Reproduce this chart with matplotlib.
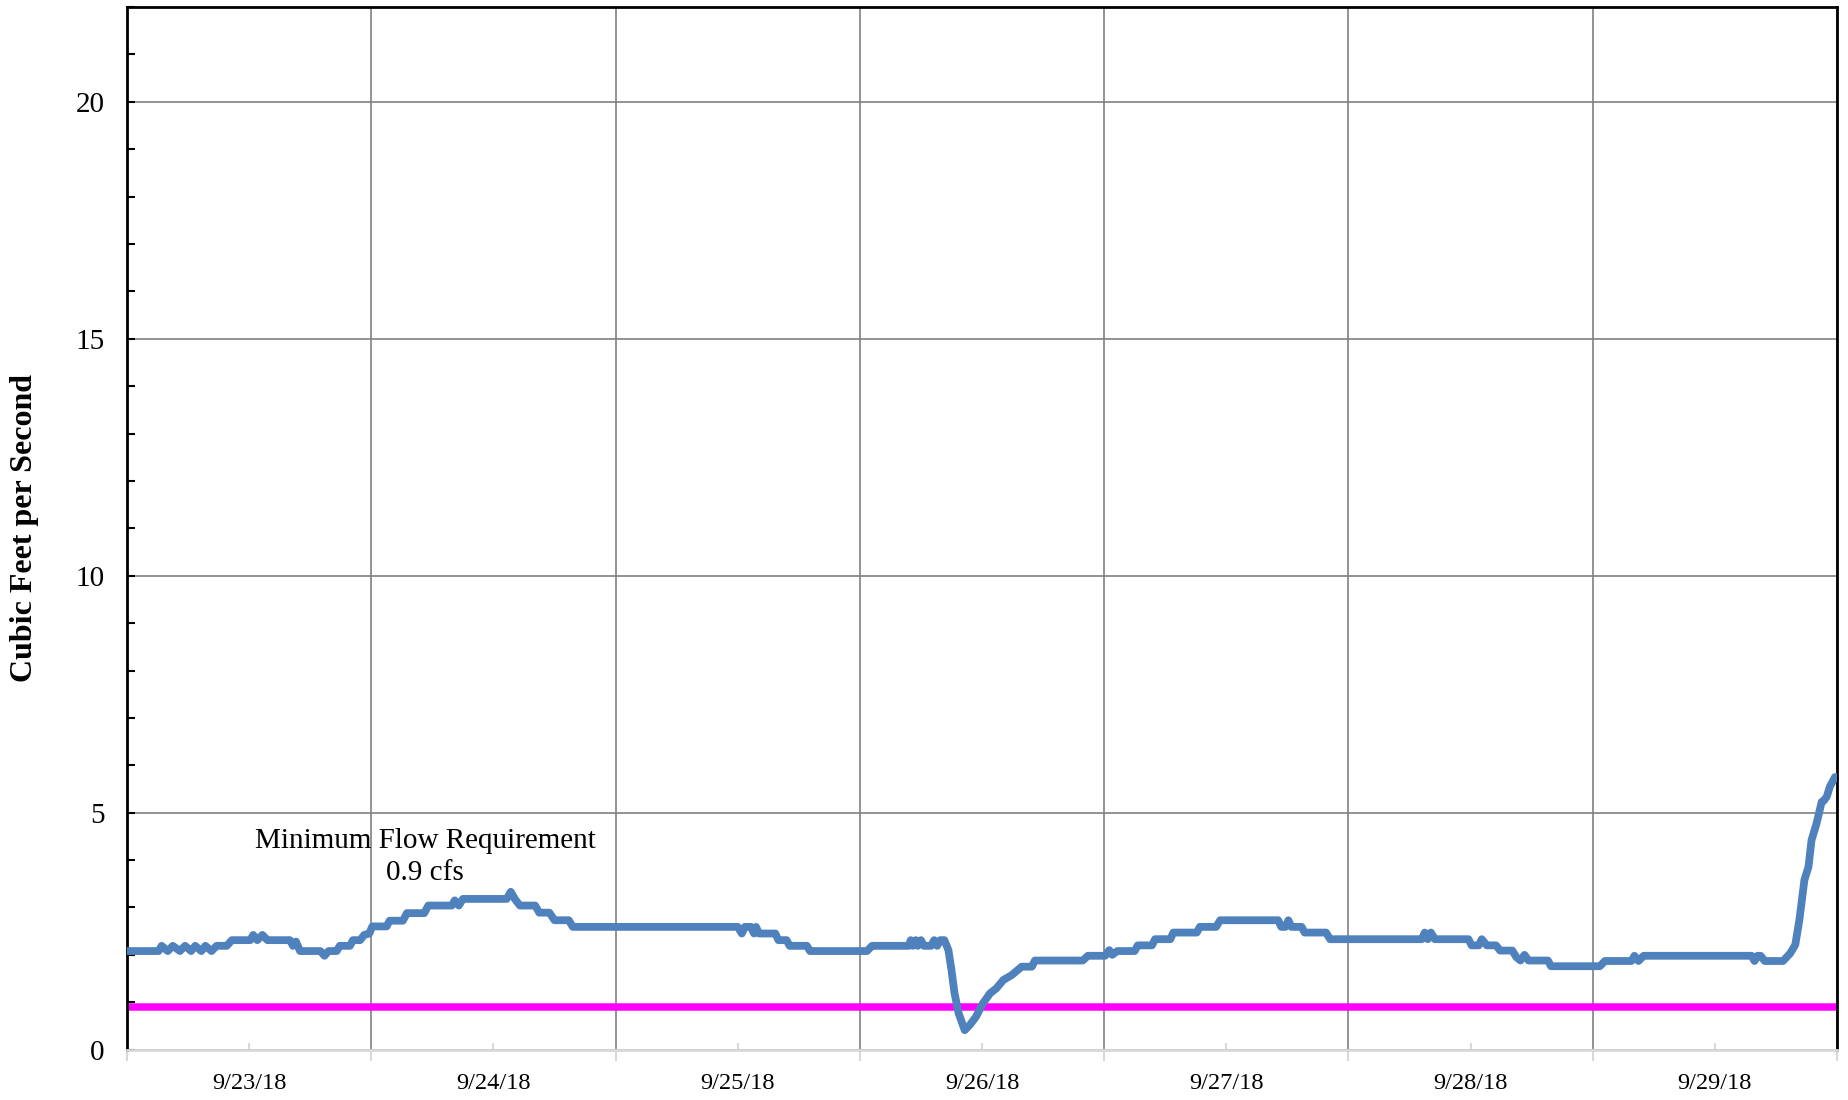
import matplotlib
matplotlib.use("Agg")
from matplotlib import pyplot as plt
from matplotlib.ticker import MultipleLocator, FixedLocator

plt.rcParams['font.family'] = ['Liberation Serif', 'DejaVu Serif']

# hours since 9/22/18 12:00 and flow (cfs) at each vertex of the trace
hours = [0, 3.1, 3.4, 4.0, 4.5, 5.2, 5.7, 6.3, 6.7, 7.3, 7.7, 8.3, 8.8, 9.8, 10.3,
         12.1, 12.4, 12.8, 13.3, 13.8, 16.0, 16.3, 16.6, 17.0, 19.0, 19.4, 19.8,
         20.6, 20.9, 21.9, 22.2, 22.9, 23.3, 23.8, 24.1, 25.5, 25.8, 27.1, 27.5,
         29.2, 29.6, 31.9, 32.2, 32.6, 33.0, 37.3, 37.7, 38.1, 38.6, 40.1, 40.5,
         41.5, 42.0, 43.4, 43.8, 60.0, 60.4, 60.7, 61.3, 61.6, 61.8, 62.1, 63.7,
         64.0, 64.8, 65.1, 66.8, 67.1, 72.7, 73.2, 76.8, 77.0, 77.2, 77.5, 77.7,
         78.0, 78.3, 79.0, 79.3, 79.6, 79.9, 80.3, 80.7, 81.0, 81.3, 81.7, 82.3,
         82.8, 83.4, 84.1, 84.8, 85.4, 86.1, 86.9, 87.9, 88.9, 89.2, 93.9, 94.4,
         96.1, 96.5, 96.8, 97.3, 99.0, 99.3, 100.7, 101.0, 102.5, 102.8, 105.1,
         105.4, 107.0, 107.4, 113.1, 113.4, 113.8, 114.1, 114.4, 115.4, 115.7,
         117.8, 118.2, 127.2, 127.5, 127.8, 128.1, 128.5, 131.8, 132.1, 132.8,
         133.1, 133.6, 134.5, 134.9, 136.1, 136.5, 136.9, 137.3, 137.7, 139.6,
         139.9, 144.7, 145.2, 147.8, 148.1, 148.5, 149.0, 159.6, 159.9, 160.2,
         160.5, 160.9, 162.7, 163.4, 163.9, 164.3, 164.8, 165.2, 165.5, 166.0,
         166.5, 166.7, 167.0, 167.3, 167.8, 168.0]
flow = [2.08, 2.08, 2.19, 2.08, 2.19, 2.08, 2.19, 2.08, 2.19, 2.08, 2.19, 2.08, 2.19, 2.19, 2.31,
        2.31, 2.42, 2.31, 2.42, 2.31, 2.31, 2.19, 2.28, 2.08, 2.08, 1.98, 2.08,
        2.08, 2.19, 2.19, 2.31, 2.31, 2.42, 2.45, 2.60, 2.60, 2.72, 2.72, 2.88,
        2.88, 3.04, 3.04, 3.15, 3.04, 3.18, 3.18, 3.33, 3.18, 3.04, 3.04, 2.89,
        2.89, 2.73, 2.73, 2.59, 2.59, 2.45, 2.59, 2.59, 2.45, 2.59, 2.45, 2.45,
        2.31, 2.31, 2.19, 2.19, 2.08, 2.08, 2.19, 2.19, 2.31, 2.19, 2.31, 2.19,
        2.31, 2.19, 2.19, 2.31, 2.19, 2.31, 2.31, 2.10, 1.68, 1.19, 0.77, 0.41,
        0.52, 0.69, 0.98, 1.19, 1.29, 1.47, 1.57, 1.75, 1.75, 1.88, 1.88, 1.98,
        1.98, 2.10, 2.00, 2.08, 2.08, 2.20, 2.20, 2.33, 2.33, 2.47, 2.47,
        2.59, 2.59, 2.73, 2.73, 2.59, 2.59, 2.73, 2.59, 2.59, 2.47,
        2.47, 2.33, 2.33, 2.47, 2.33, 2.47, 2.33, 2.33, 2.20, 2.20,
        2.33, 2.20, 2.20, 2.09, 2.09, 1.95, 1.88, 2.00, 1.88, 1.88,
        1.76, 1.76, 1.87, 1.87, 1.98, 1.87, 1.98, 1.98, 1.87, 1.98,
        1.98, 1.87, 1.87, 2.03, 2.21, 2.73, 3.58, 3.86, 4.42, 4.78,
        5.23, 5.25, 5.34, 5.55, 5.75, 5.75]

min_flow_hours = [0, 168]
min_flow = [0.9, 0.9]

day_ticks = [12, 36, 60, 84, 108, 132, 156]
day_labels = ['9/23/18', '9/24/18', '9/25/18', '9/26/18', '9/27/18', '9/28/18', '9/29/18']

fig = plt.figure(figsize=(18.49, 11), dpi=100)
ax = fig.add_axes([0.0687, 0.0458, 0.9248, 0.9478])

ax.plot(hours, flow, color='#4F81BD', lw=5.6, solid_joinstyle='round',
        solid_capstyle='round', zorder=3)
ax.plot(min_flow_hours, min_flow, color='#FF00FF', lw=5.4, solid_capstyle='butt', zorder=2)

ax.set_xlim(0, 168)
ax.set_ylim(0, 22)

ax.xaxis.set_major_locator(MultipleLocator(24))
ax.xaxis.set_minor_locator(FixedLocator(day_ticks))
ax.set_xticklabels([])
ax.set_xticklabels(day_labels, minor=True, fontsize=17.6)
ax.tick_params(axis='x', which='major', direction='out', length=8, width=1.5,
               color='#d9d9d9')
ax.tick_params(axis='x', which='minor', direction='in', length=5, width=1.5,
               color='#d9d9d9', pad=16.5)

ax.yaxis.set_major_locator(MultipleLocator(5))
ax.yaxis.set_minor_locator(MultipleLocator(1))
ax.tick_params(axis='y', which='both', direction='in', length=6, width=1.5,
               color='black', labelsize=21, pad=16)

ax.grid(True, which='major', color='#808080', lw=1.2)
ax.set_axisbelow(True)

for side in ['left', 'top', 'right']:
    ax.spines[side].set_color('black')
    ax.spines[side].set_linewidth(2)
ax.spines['bottom'].set_color('#d9d9d9')
ax.spines['bottom'].set_linewidth(2)

ax.set_ylabel('Cubic Feet per Second', fontsize=23, fontweight='bold')
ax.yaxis.set_label_coords(-0.0515, 0.5)

ax.text(29.3, 4.06, 'Minimum Flow Requirement\n0.9 cfs', fontsize=21,
        ha='center', va='center', linespacing=1.3)

fig.savefig('out.png', dpi=100)
